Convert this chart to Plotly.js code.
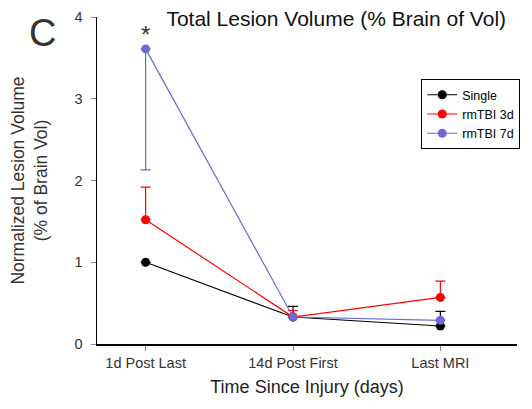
<!DOCTYPE html>
<html>
<head>
<meta charset="utf-8">
<script src="https://cdn.plot.ly/plotly-3.0.1.min.js"></script>
<style>html,body{margin:0;padding:0;background:#fff;}#chart{width:532px;height:409px;}</style>
</head>
<body>
<div id="chart"></div>
<script>
const categories = ["1d Post Last", "14d Post First", "Last MRI"];
const seriesNames = ["Single", "rmTBI 3d", "rmTBI 7d"];
const singleValues = [1.00, 0.33, 0.22];
const singleErrUp = [0, 0.13, 0.18];
const singleErrDown = [0, 0, 0];
const rm3dValues = [1.52, 0.33, 0.57];
const rm3dErrUp = [0.40, 0.08, 0.20];
const rm3dErrDown = [0, 0, 0];
const rm7dValues = [3.61, 0.33, 0.29];
const rm7dErrUp = [0, 0, 0];
const rm7dErrDown = [1.48, 0, 0];
const colors = ["#000000", "#ff0000", "#6a6ad2"];
const yTicks = [0, 1, 2, 3, 4];

const xIdx = categories.map((c, i) => i);
function mk(name, vals, up, down, color) {
  return {
    type: "scatter", mode: "lines+markers", name: name,
    x: xIdx, y: vals,
    line: {color: color, width: 1.2},
    marker: {color: color, size: 9},
    error_y: {type: "data", symmetric: false, array: up, arrayminus: down,
              color: color, thickness: 1.2, width: 5}
  };
}
const traces = [
  mk(seriesNames[0], singleValues, singleErrUp, singleErrDown, colors[0]),
  mk(seriesNames[1], rm3dValues, rm3dErrUp, rm3dErrDown, colors[1]),
  mk(seriesNames[2], rm7dValues, rm7dErrUp, rm7dErrDown, colors[2])
];
const fontFam = "Liberation Sans, Arial, sans-serif";
const layout = {
  width: 532, height: 409,
  margin: {l: 97, r: 12, t: 17, b: 65},
  paper_bgcolor: "#fff", plot_bgcolor: "#fff",
  font: {family: fontFam, color: "#222"},
  showlegend: true,
  legend: {x: 0.772, y: 0.81, xanchor: "left", yanchor: "top",
           bordercolor: "#000", borderwidth: 1, bgcolor: "#fff",
           font: {size: 12.5, color: "#000"}, itemwidth: 30, tracegroupgap: 0},
  title: {text: "Total Lesion Volume (% Brain of Vol)", x: 0.632, xanchor: "center",
          y: 0.955, yanchor: "middle", yref: "container", font: {size: 21, color: "#111"}},
  xaxis: {
    range: [-0.33, 2.52], tickvals: xIdx, ticktext: categories,
    showgrid: false, zeroline: false, showline: true, linecolor: "#000", linewidth: 1.5,
    ticks: "outside", ticklen: 5, tickcolor: "#888", tickfont: {size: 14.5, color: "#333"},
    title: {text: "Time Since Injury (days)", font: {size: 18, color: "#222"}, standoff: 10}
  },
  yaxis: {
    range: [0, 4], tickvals: yTicks,
    showgrid: false, zeroline: false, showline: true, linecolor: "#000", linewidth: 1.5,
    ticks: "outside", ticklen: 5, tickcolor: "#888", tickfont: {size: 14.5, color: "#333"},
    ticklabelstandoff: 5,
    title: {text: "Normalized Lesion Volume<br>(% of Brain Vol)", font: {size: 17.5, color: "#333"}, standoff: 22}
  },
  annotations: [
    {text: "C", xref: "paper", yref: "paper", x: (42 - 97) / 423, y: (344 - 33) / 327,
     xanchor: "center", yanchor: "middle", showarrow: false, font: {size: 38, color: "#333"}},
    {text: "*", xref: "x", yref: "y", x: 0, y: 3.78, xanchor: "center", yanchor: "middle",
     showarrow: false, font: {size: 24, color: "#333"}}
  ]
};
Plotly.newPlot("chart", traces, layout, {displayModeBar: false, staticPlot: true});
</script>
</body>
</html>
